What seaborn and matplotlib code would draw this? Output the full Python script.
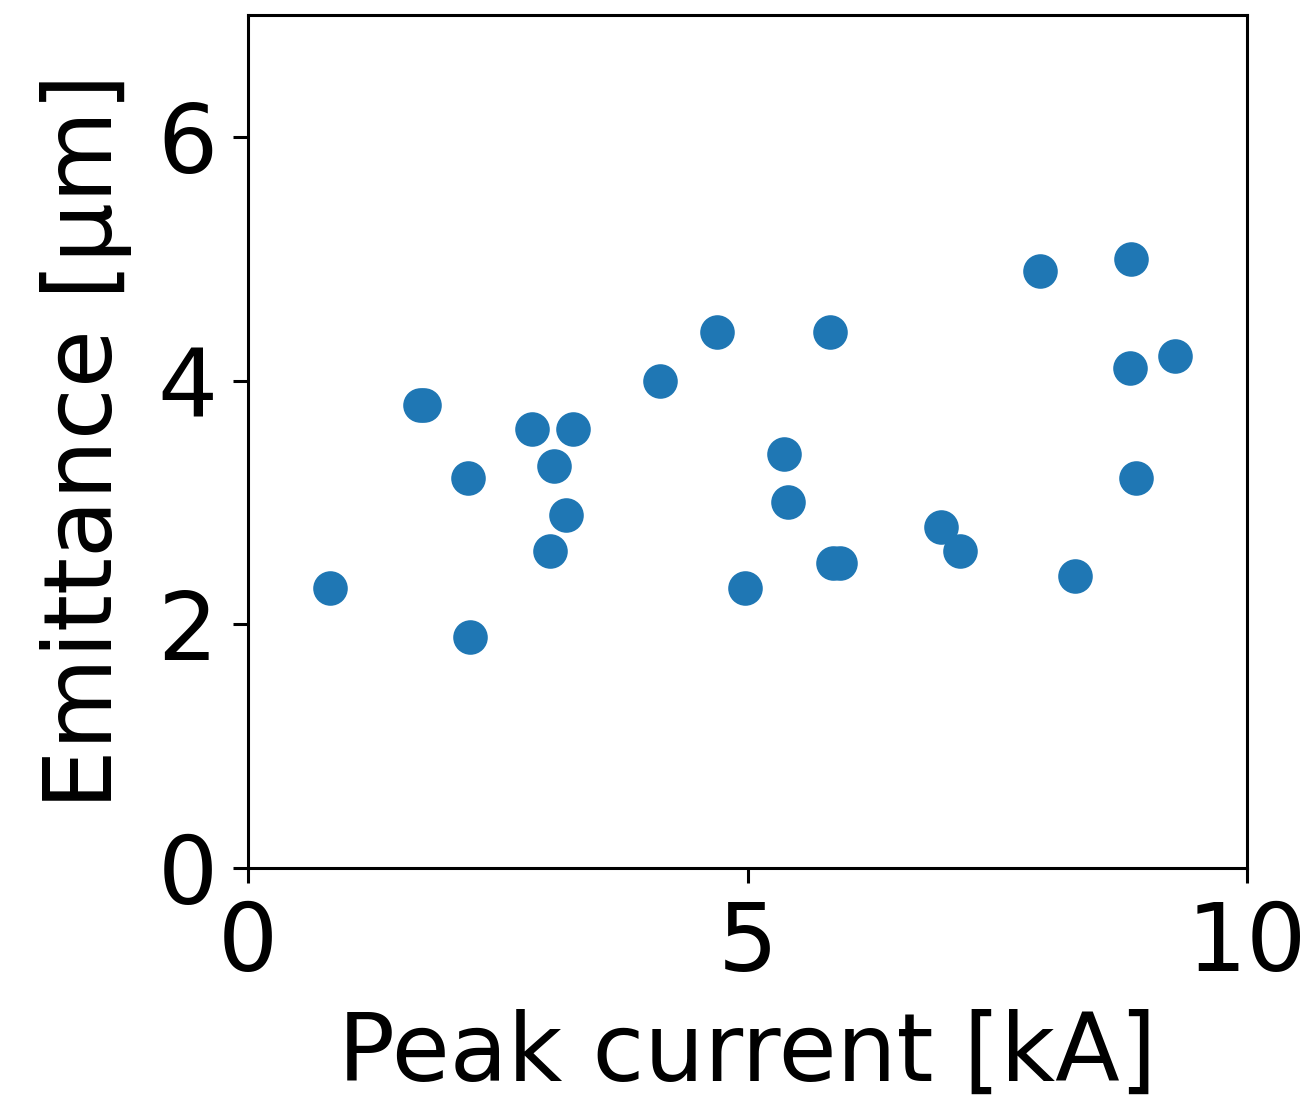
import matplotlib
matplotlib.use("Agg")
import matplotlib.pyplot as plt
import seaborn as sns
import pandas as pd

# Peak current [kA] and emittance [um] for each shot
peak_current = [0.82, 1.72, 1.76, 2.20, 2.22, 2.84, 3.06, 3.25, 3.18, 3.02,
                4.12, 4.69, 4.97, 5.37, 5.41, 5.83, 5.86, 5.93, 6.94, 7.13,
                7.93, 8.28, 8.84, 8.83, 9.28, 8.89]
emittance = [2.3, 3.8, 3.8, 3.2, 1.9, 3.6, 3.3, 3.6, 2.9, 2.6,
             4.0, 4.4, 2.3, 3.4, 3.0, 4.4, 2.5, 2.5, 2.8, 2.6,
             4.9, 2.4, 5.0, 4.1, 4.2, 3.2]

x_ticks = [0, 5, 10]
y_ticks = [0, 2, 4, 6]

df = pd.DataFrame({"current": peak_current, "emittance": emittance})

sns.set_style("ticks")
plt.rcParams["font.family"] = ["DejaVu Sans"]
plt.rcParams.update({
    "text.color": "black",
    "axes.labelcolor": "black",
    "xtick.color": "black",
    "ytick.color": "black",
    "axes.edgecolor": "black",
})

fig = plt.figure(figsize=(13.12, 11.02), dpi=100)
ax = fig.add_axes([0.189, 0.2123, 0.7615, 0.7741])

sns.scatterplot(data=df, x="current", y="emittance", ax=ax,
                color="#1f77b4", s=620, edgecolor="#1f77b4", linewidth=0,
                legend=False)

ax.set_xlim(0, 10)
ax.set_ylim(0, 7)
ax.set_xticks(x_ticks)
ax.set_yticks(y_ticks)
ax.set_xlabel("Peak current [kA]", fontsize=68, labelpad=13)
ax.set_ylabel("Emittance [μm]", fontsize=68, labelpad=18)
ax.tick_params(labelsize=68, length=11, width=2.2, pad=11)
for sp in ax.spines.values():
    sp.set_linewidth(2.2)

fig.savefig("out.png", dpi=100)
